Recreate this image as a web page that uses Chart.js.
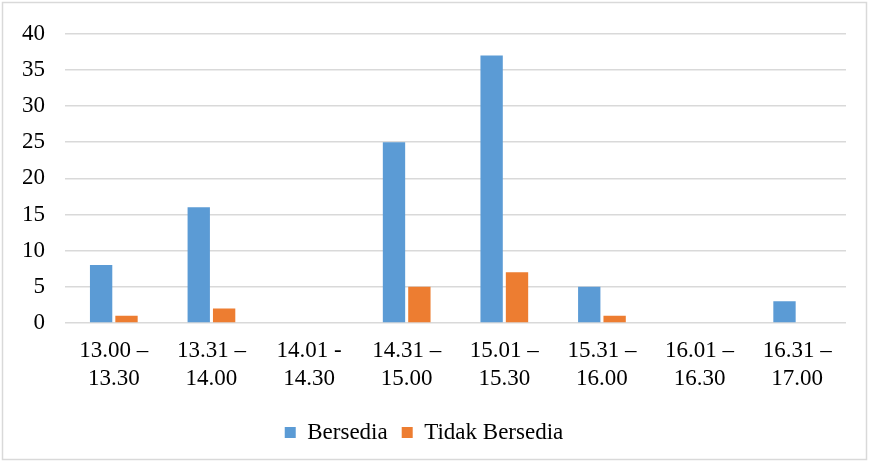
<!DOCTYPE html>
<html>
<head>
<meta charset="utf-8">
<script src="https://cdn.jsdelivr.net/npm/chart.js@4"></script>
<style>
  html, body { margin: 0; padding: 0; background: #fff; }
  #wrap { width: 870px; height: 462px; }
</style>
</head>
<body>
<div id="wrap"><canvas id="chart" width="870" height="462"></canvas></div>
<script>
const categories = [
    ["13.00 –", "13.30"],
    ["13.31 –", "14.00"],
    ["14.01 -", "14.30"],
    ["14.31 –", "15.00"],
    ["15.01 –", "15.30"],
    ["15.31 –", "16.00"],
    ["16.01 –", "16.30"],
    ["16.31 –", "17.00"],
];
const bersedia = [8, 16, 0, 25, 37, 5, 0, 3];
const tidakBersedia = [1, 2, 0, 5, 7, 1, 0, 0];
const yTicks = [0, 5, 10, 15, 20, 25, 30, 35, 40];

const serif = "'Liberation Serif', 'Times New Roman', serif";

// thin grey frame around the whole chart
const frame = {
    id: "frame",
    beforeDraw(chart) {
        const c = chart.ctx;
        c.save();
        c.fillStyle = "#fff";
        c.fillRect(0, 0, chart.width, chart.height);
        c.strokeStyle = "#d9d9d9";
        c.lineWidth = 1.5;
        c.strokeRect(2.5, 2.5, chart.width - 6, chart.height - 5);
        c.restore();
    },
};

new Chart(document.getElementById("chart").getContext("2d"), {
    type: "bar",
    data: {
        labels: categories,
        datasets: [
            {
                label: "Bersedia",
                data: bersedia,
                backgroundColor: "#5B9BD5",
            },
            {
                label: "Tidak Bersedia",
                data: tidakBersedia,
                backgroundColor: "#ED7D31",
            },
        ],
    },
    options: {
        responsive: false,
        animation: false,
        categoryPercentage: 0.52,
        barPercentage: 0.88,
        layout: { padding: { top: 22, right: 24, left: 2, bottom: 8 } },
        plugins: {
            legend: {
                position: "bottom",
                labels: {
                    font: { family: serif, size: 23 },
                    color: "#000",
                    boxWidth: 11,
                    boxHeight: 11,
                    padding: 14,
                },
            },
            tooltip: { enabled: false },
        },
        scales: {
            x: {
                border: { display: false },
                grid: { display: false, drawTicks: false },
                ticks: {
                    font: { family: serif, size: 23, lineHeight: 1.22 },
                    color: "#000",
                    padding: 14,
                    maxRotation: 0,
                },
            },
            y: {
                min: 0,
                max: 40,
                border: { display: false },
                grid: { color: "#d9d9d9", lineWidth: 1.5, drawTicks: false },
                afterBuildTicks: (axis) => {
                    axis.ticks = yTicks.map((v) => ({ value: v }));
                },
                ticks: {
                    font: { family: serif, size: 23 },
                    color: "#000",
                    padding: 20,
                },
            },
        },
    },
    plugins: [frame],
});
</script>
</body>
</html>
